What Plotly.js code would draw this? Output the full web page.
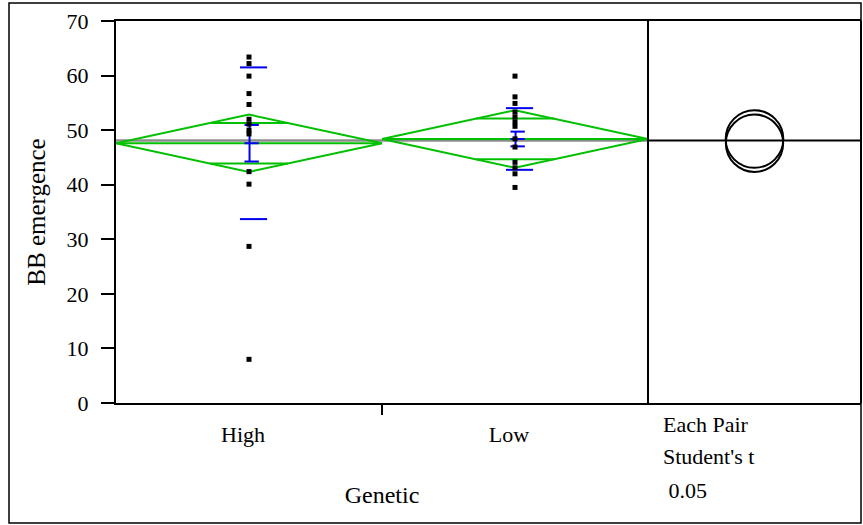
<!DOCTYPE html>
<html>
<head>
<meta charset="utf-8">
<script src="https://cdn.plot.ly/plotly-3.0.1.min.js"></script>
<style>html,body{margin:0;padding:0;background:#fff;}#chart{width:863px;height:525px;}</style>
</head>
<body>
<div id="chart"></div>
<script>
// ---- data ----
var categories = ['High', 'Low'];
var highValues = [63.4, 62.2, 59.9, 56.7, 54.7, 52.0, 51.1, 50.0, 49.3, 42.4, 40.1, 28.7, 8.0];
var lowValues  = [59.9, 56.1, 54.9, 53.3, 52.4, 51.5, 50.7, 48.4, 46.9, 44.1, 43.1, 42.0, 39.5];
var groupMeans = [47.6, 48.38];
var ciHalf     = [5.25, 5.28];
var stdDev     = [13.9, 5.65];
var stdErr     = [3.35, 1.35];
var grandMean  = 48.1;
var yTickVals  = [0, 10, 20, 30, 40, 50, 60, 70];
var compLabels = ['Each Pair', "Student's t", ' 0.05'];

// ---- layout geometry ----
var W = 863, H = 525;
var M = {l: 116, r: 2, t: 21, b: 122};
var PW = W - M.l - M.r, PH = H - M.t - M.b;
var divX = 648;
var split = (divX - M.l) / PW;
var yMax = 70;
var pxPerY = PH / yMax;
var x2Width = (W - M.r - divX) / pxPerY;   // so circles stay round
function paperX(px) { return (px - M.l) / PW; }
function paperY(py) { return (H - M.b - py) / PH; }

var font = 'Liberation Serif';
var green = '#00c000', blue = '#0000ee';
var groups = [highValues, lowValues];
var traces = [];

// grand mean line (gray)
traces.push({x: [-0.5, 1.5], y: [grandMean, grandMean], mode: 'lines',
  line: {color: '#8c8c8c', width: 2.5}, hoverinfo: 'skip'});

// mean diamonds with overlap marks
var k = 0.5 * (1 - 1 / Math.SQRT2);
groups.forEach(function (g, i) {
  var m = groupMeans[i], c = ciHalf[i], o = c / Math.SQRT2;
  traces.push({
    x: [i - 0.5, i, i + 0.5, i, i - 0.5, null, i - 0.5, i + 0.5, null, i - k, i + k, null, i - k, i + k],
    y: [m, m + c, m, m - c, m, null, m, m, null, m + o, m + o, null, m - o, m - o],
    mode: 'lines', line: {color: green, width: 2}, hoverinfo: 'skip'
  });
});

// std dev lines and mean error bars (blue)
groups.forEach(function (g, i) {
  var m = groupMeans[i], s = stdDev[i], e = stdErr[i];
  var a = i - 0.034, b = i + 0.068, ca = i - 0.017, cb = i + 0.037, v = i + 0.002;
  traces.push({
    x: [a, b, null, a, b, null, ca, cb, null, ca, cb, null, ca, cb, null, v, v],
    y: [m + s, m + s, null, m - s, m - s, null, m + e, m + e, null, m, m, null, m - e, m - e, null, m + e, m - e],
    mode: 'lines', line: {color: blue, width: 2}, hoverinfo: 'skip'
  });
});

// raw points
groups.forEach(function (g, i) {
  traces.push({x: g.map(function () { return i; }), y: g, mode: 'markers',
    marker: {symbol: 'square', size: 5, color: '#000'}, hoverinfo: 'y'});
});

// comparison panel reference line
traces.push({x: [0, x2Width], y: [grandMean, grandMean], xaxis: 'x2', yaxis: 'y',
  mode: 'lines', line: {color: '#000', width: 2}, hoverinfo: 'skip'});

// comparison circles
var shapes = groupMeans.map(function (m, i) {
  var r = ciHalf[i], cx = x2Width / 2;
  return {type: 'circle', xref: 'x2', yref: 'y', x0: cx - r, x1: cx + r, y0: m - r, y1: m + r,
    line: {color: '#000', width: 2}};
});
// panel divider and right edge
[split, 1].forEach(function (px) {
  shapes.push({type: 'line', xref: 'paper', yref: 'paper', x0: px, x1: px, y0: 0, y1: 1,
    line: {color: '#000', width: 2}});
});
// outer frame
shapes.push({type: 'rect', xref: 'paper', yref: 'paper', x0: paperX(9), x1: paperX(861),
  y0: paperY(523), y1: paperY(3), line: {color: '#000', width: 1.5}, layer: 'below'});

var annotations = compLabels.map(function (t, i) {
  var ys = [425, 456, 490];
  return {text: t, xref: 'paper', yref: 'paper', x: paperX(661), y: paperY(ys[i]),
    xanchor: 'left', yanchor: 'middle', showarrow: false,
    font: {family: font, size: 22, color: '#000'}};
});

var layout = {
  width: W, height: H, margin: M, showlegend: false,
  paper_bgcolor: '#fff', plot_bgcolor: '#fff',
  font: {family: font, color: '#000'},
  xaxis: {domain: [0, split], range: [-0.5, 1.5], tickvals: [0, 1], ticktext: categories,
    ticks: '', showgrid: false, zeroline: false, showline: true, mirror: true,
    linecolor: '#000', linewidth: 2, ticklabelstandoff: 11, ticklabelshift: -6,
    tickfont: {family: font, size: 22, color: '#000'},
    minor: {tickvals: [0.5], ticks: 'outside', ticklen: 10, tickwidth: 2, tickcolor: '#000', showgrid: false},
    title: {text: 'Genetic', font: {family: font, size: 24, color: '#000'}, standoff: 40},
    fixedrange: true},
  xaxis2: {domain: [split, 1], anchor: 'y', range: [0, x2Width], showticklabels: false,
    ticks: '', showgrid: false, zeroline: false, showline: true, mirror: true,
    linecolor: '#000', linewidth: 2, fixedrange: true},
  yaxis: {range: [0, yMax], tickvals: yTickVals, ticks: 'outside', ticklen: 13, tickwidth: 2,
    tickcolor: '#000', showgrid: false, zeroline: false, showline: true, mirror: false,
    linecolor: '#000', linewidth: 2, ticklabelstandoff: 8,
    tickfont: {family: font, size: 22, color: '#000'},
    title: {text: 'BB emergence', font: {family: font, size: 25, color: '#000'}, standoff: 14},
    fixedrange: true},
  shapes: shapes,
  annotations: annotations
};

Plotly.newPlot('chart', traces, layout, {displayModeBar: false, staticPlot: true});
</script>
</body>
</html>
